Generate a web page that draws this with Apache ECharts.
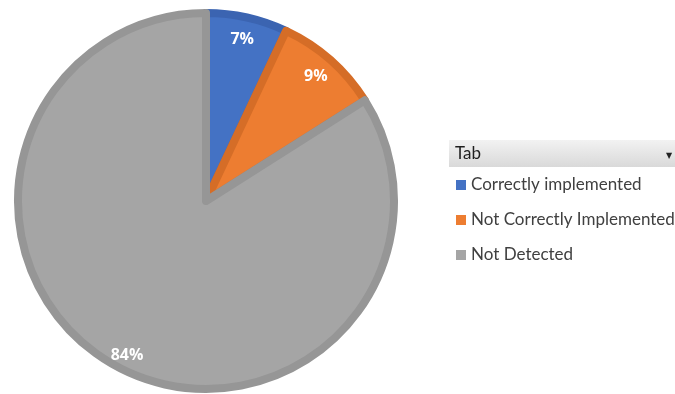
<!DOCTYPE html>
<html>
<head>
<meta charset="utf-8">
<script src="https://cdn.jsdelivr.net/npm/echarts@6/dist/echarts.min.js"></script>
<style>
  html, body { margin: 0; padding: 0; background: #fff; }
  #chart { width: 675px; height: 394px; }
</style>
</head>
<body>
<div id="chart"></div>
<script>
// Share of findings per outcome (percent)
const categories = ['Correctly implemented', 'Not Correctly Implemented', 'Not Detected'];
const shares = [7, 9, 84];
const fillColors = ['#4472C4', '#ED7D31', '#A5A5A5'];
const edgeColors = ['#3B64B1', '#D56D27', '#969696'];
const filterTitle = 'Tab';

const center = [206, 201];
const outerR = 188;

const sliceData = categories.map((name, i) => ({
  name,
  value: shares[i],
  itemStyle: { color: fillColors[i], borderColor: edgeColors[i] }
}));

// label carriers; the big slice's label sits a little nearer the rim
const labelData = categories.map((name, i) => ({
  name,
  value: shares[i],
  label: i === 2 ? { offset: [1, 9] } : {}
}));

const chart = echarts.init(document.getElementById('chart'), null, { renderer: 'canvas' });
chart.setOption({
  animation: false,
  color: fillColors,
  legend: {
    orient: 'vertical',
    left: 456,
    top: 176,
    padding: 0,
    itemWidth: 10,
    itemHeight: 10,
    itemGap: 17,
    icon: 'rect',
    itemStyle: { borderWidth: 0 },
    data: categories,
    textStyle: {
      fontFamily: 'Lato, "Open Sans", sans-serif',
      fontSize: 17,
      color: '#404040',
      lineHeight: 18
    }
  },
  graphic: [
    {
      type: 'rect',
      shape: { x: 449, y: 140, width: 226, height: 27 },
      style: {
        fill: new echarts.graphic.LinearGradient(0, 0, 0, 1, [
          { offset: 0, color: '#f2f2f2' },
          { offset: 1, color: '#d9d9d9' }
        ])
      },
      silent: true
    },
    {
      type: 'text',
      left: 455,
      top: 145,
      style: {
        text: filterTitle,
        font: '17px Lato, "Open Sans", sans-serif',
        fill: '#1f1f1f'
      },
      silent: true
    },
    {
      type: 'text',
      left: 666,
      top: 152,
      style: {
        text: '▼',
        font: '8px "DejaVu Sans", sans-serif',
        fill: '#222'
      },
      silent: true
    }
  ],
  series: [
    {
      type: 'pie',
      center,
      radius: [0, outerR],
      startAngle: 90,
      clockwise: true,
      silent: true,
      label: { show: false },
      labelLine: { show: false },
      itemStyle: { borderWidth: 8 },
      data: sliceData
    },
    {
      // transparent ring that only carries the percentage labels near the rim
      type: 'pie',
      center,
      radius: [140, 186],
      startAngle: 90,
      clockwise: true,
      silent: true,
      itemStyle: { color: 'rgba(0,0,0,0)' },
      label: {
        show: true,
        position: 'inside',
        formatter: '{c}%',
        color: '#ffffff',
        fontWeight: 'bold',
        fontSize: 16,
        fontFamily: '"Open Sans", Lato, sans-serif'
      },
      labelLine: { show: false },
      data: labelData
    }
  ]
});
</script>
</body>
</html>
